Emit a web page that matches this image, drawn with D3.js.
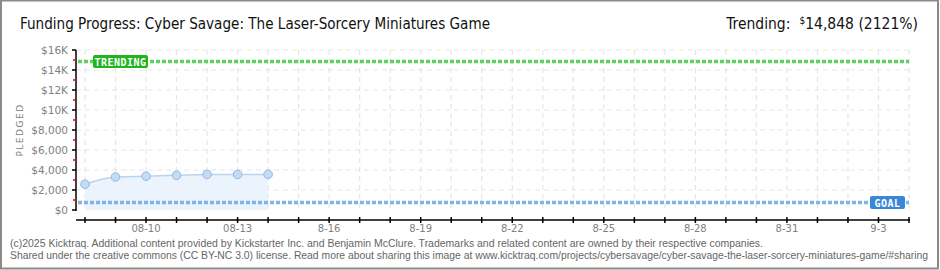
<!DOCTYPE html>
<html><head><meta charset="utf-8">
<script src="https://cdn.jsdelivr.net/npm/d3@7/dist/d3.min.js"></script>
<style>html,body{margin:0;padding:0;background:#fff;}svg{display:block;}</style>
</head><body><svg id="c" width="940" height="270"></svg>
<script>
const dates = ["2025-08-08","2025-08-09","2025-08-10","2025-08-11","2025-08-12","2025-08-13","2025-08-14"];
const pledged = [2580, 3300, 3380, 3470, 3560, 3560, 3560];
const goal = 700;
const trending = 14848;
const trendPct = "2121%";
const domainStart = "2025-08-08", domainEnd = "2025-09-04";
const xLabelDates = ["2025-08-10","2025-08-13","2025-08-16","2025-08-19","2025-08-22","2025-08-25","2025-08-28","2025-08-31","2025-09-03"];
const xLabels = ["08-10","08-13","8-16","8-19","8-22","8-25","8-28","8-31","9-3"];
const yTicks = [0,2000,4000,6000,8000,10000,12000,14000,16000];
const yLabels = ["$0","$2,000","$4,000","$6,000","$8,000","$10K","$12K","$14K","$16K"];
const title = "Funding Progress: Cyber Savage: The Laser-Sorcery Miniatures Game";
const foot1 = "(c)2025 Kicktraq. Additional content provided by Kickstarter Inc. and Benjamin McClure. Trademarks and related content are owned by their respective companies.";
const foot2 = "Shared under the creative commons (CC BY-NC 3.0) license. Read more about sharing this image at www.kicktraq.com/projects/cybersavage/cyber-savage-the-laser-sorcery-miniatures-game/#sharing";

const svg = d3.select("#c");
const P = d3.timeParse("%Y-%m-%d");
const x = d3.scaleTime().domain([P(domainStart), P(domainEnd)]).range([85, 909]);
const y = d3.scaleLinear().domain([0, 16000]).range([210, 50]);
const left = 76;

// border
svg.append("rect").attr("x",1).attr("y",0.5).attr("width",937).attr("height",268)
  .attr("fill","#fff").attr("stroke","#8a8a8a").attr("stroke-width",2);

// title
svg.append("text").attr("x",20).attr("y",29).text(title)
  .attr("font-family","'DejaVu Sans Condensed','Liberation Sans Narrow','DejaVu Sans',sans-serif")
  .attr("font-size",15.5).attr("fill","#111")
  .attr("textLength",470).attr("lengthAdjust","spacingAndGlyphs");

// trending header
const th = svg.append("text").attr("x",918).attr("y",29).attr("text-anchor","end")
  .attr("font-family","'DejaVu Sans Condensed','DejaVu Sans',sans-serif").attr("font-size",15.5).attr("fill","#111");
th.append("tspan").text("Trending:");
th.append("tspan").text("$").attr("font-size",10).attr("dy",-5).attr("dx",9);
th.append("tspan").text(d3.format(",")(trending) + " (" + trendPct + ")").attr("dy",5);

// grid
const days = d3.timeDay.range(P(domainStart), d3.timeDay.offset(P(domainEnd),1));
const g = svg.append("g");
g.selectAll("line.v").data(days).join("line")
  .attr("x1",d=>x(d)).attr("x2",d=>x(d)).attr("y1",y(16000)).attr("y2",y(0))
  .attr("stroke","#e6e6e6").attr("stroke-width",1.2).attr("stroke-dasharray","5,4");
g.selectAll("line.h").data(yTicks.slice(1)).join("line")
  .attr("x1",left).attr("x2",x(P(domainEnd))).attr("y1",d=>y(d)).attr("y2",d=>y(d))
  .attr("stroke","#e6e6e6").attr("stroke-width",1.2).attr("stroke-dasharray","5,4");

// area + line
const pts = dates.map((d,i)=>({d:P(d), v:pledged[i]}));
svg.append("path").datum(pts)
  .attr("d", d3.area().x(p=>x(p.d)).y0(y(0)).y1(p=>y(p.v)).curve(d3.curveMonotoneX))
  .attr("fill","#e9f2fc").attr("opacity",0.9);
svg.append("path").datum(pts)
  .attr("d", d3.line().x(p=>x(p.d)).y(p=>y(p.v)).curve(d3.curveMonotoneX))
  .attr("fill","none").attr("stroke","#b9d4f1").attr("stroke-width",1.5);

// goal line
svg.append("line").attr("x1",left+2).attr("x2",x(P(domainEnd))).attr("y1",y(goal)-0.5).attr("y2",y(goal)-0.5)
  .attr("stroke","#80b3e6").attr("stroke-width",3.5).attr("stroke-dasharray","4,2");
// trending line
svg.append("line").attr("x1",left+2).attr("x2",x(P(domainEnd))).attr("y1",y(trending)).attr("y2",y(trending))
  .attr("stroke","#62cf62").attr("stroke-width",3.5).attr("stroke-dasharray","4,2");

// points
svg.selectAll("circle.p").data(pts).join("circle")
  .attr("cx",p=>x(p.d)).attr("cy",p=>y(p.v)).attr("r",4.3)
  .attr("fill","#c4dbf5").attr("stroke","#97b6dc").attr("stroke-width",1);

// labels boxes
function badge(cx0, cy, w, text, fill){
  svg.append("rect").attr("x",cx0).attr("y",cy-6.5).attr("width",w).attr("height",13).attr("rx",2)
    .attr("fill",fill);
  svg.append("text").attr("x",cx0+w/2).attr("y",cy+4).attr("text-anchor","middle")
    .attr("font-family","'DejaVu Sans Mono',monospace").attr("font-weight","bold").attr("font-size",10)
    .attr("fill","#fff").attr("letter-spacing",0.5).text(text);
}
badge(93, y(trending), 55, "TRENDING", "#1eb51e");
badge(870, y(goal)-0.5, 35, "GOAL", "#3a87d6");

// y axis
svg.append("line").attr("x1",left).attr("x2",left).attr("y1",y(16000)).attr("y2",y(0)+1)
  .attr("stroke","#000").attr("stroke-width",1.5);
svg.selectAll("line.yt").data(yTicks).join("line")
  .attr("x1",72).attr("x2",left).attr("y1",d=>y(d)).attr("y2",d=>y(d))
  .attr("stroke","#000").attr("stroke-width",1.5);
const minor = d3.range(1000,16000,2000);
svg.selectAll("line.ym").data(minor).join("line")
  .attr("x1",73).attr("x2",left).attr("y1",d=>y(d)).attr("y2",d=>y(d))
  .attr("stroke","#e00").attr("stroke-width",1.5);
svg.selectAll("text.yl").data(yTicks).join("text")
  .attr("x",68).attr("y",d=>y(d)+4).attr("text-anchor","end")
  .attr("font-family","'DejaVu Sans',sans-serif").attr("font-size",10.5).attr("fill","#808080")
  .text((d,i)=>yLabels[i]);
svg.append("text").attr("transform","translate(23,130) rotate(-90)").attr("text-anchor","middle")
  .attr("font-family","'DejaVu Sans',sans-serif").attr("font-size",9).attr("fill","#808080")
  .attr("letter-spacing",1.5).text("PLEDGED");

// x axis
svg.append("line").attr("x1",left).attr("x2",x(P(domainEnd))+1).attr("y1",220).attr("y2",220)
  .attr("stroke","#000").attr("stroke-width",1.5);
svg.selectAll("line.xt").data(days).join("line")
  .attr("x1",d=>x(d)).attr("x2",d=>x(d)).attr("y1",217).attr("y2",223)
  .attr("stroke","#000").attr("stroke-width",1.5);
svg.selectAll("text.xl").data(xLabelDates).join("text")
  .attr("x",d=>x(P(d))).attr("y",232).attr("text-anchor","middle")
  .attr("font-family","'DejaVu Sans',sans-serif").attr("font-size",10).attr("fill","#808080")
  .text((d,i)=>xLabels[i]);

// footer
function footLine(txt, yy, target){
  const t = svg.append("text").attr("x",10).attr("y",yy).text(txt)
    .attr("font-family","'Liberation Sans',Arial,sans-serif").attr("font-size",10.5).attr("fill","#666");
  const n = t.node().getComputedTextLength();
  if (n > target) t.attr("font-size", 10.5*target/n);
  t.attr("textLength",target).attr("lengthAdjust","spacingAndGlyphs");
}
footLine(foot1, 247, 753);
footLine(foot2, 259, 918);
</script></body></html>
